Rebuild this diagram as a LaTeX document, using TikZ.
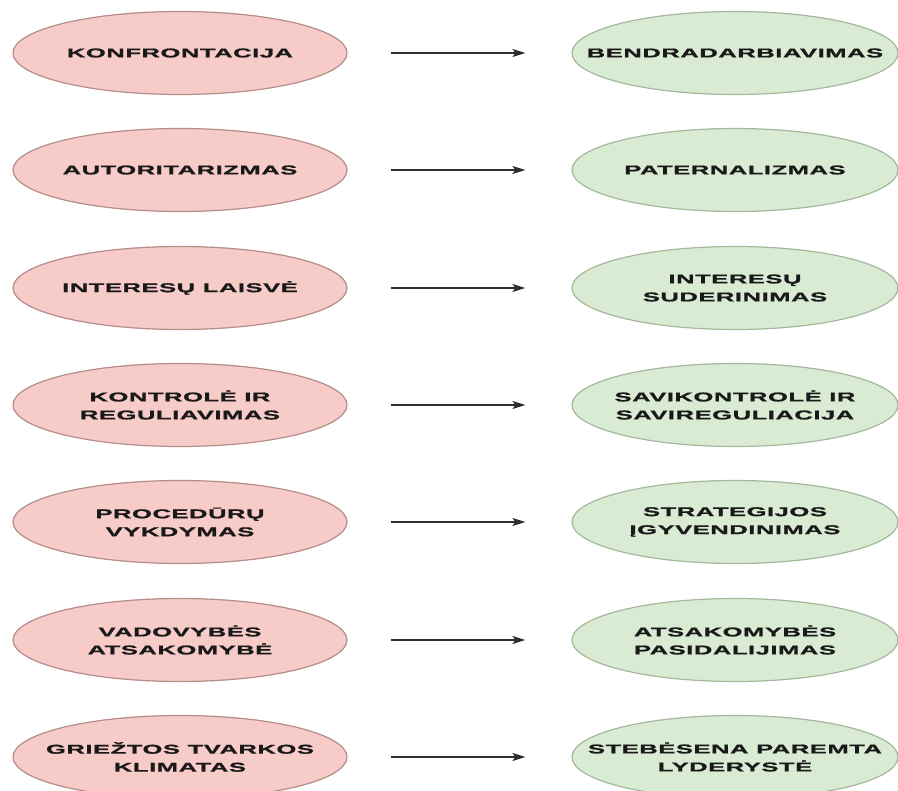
\documentclass[tikz,border=0pt]{standalone}
\usepackage{fontspec}
\newfontfamily\labfont{Liberation Sans Bold}[FakeStretch=2.0,LetterSpace=4,FakeBold=1.2]
\usetikzlibrary{shapes.geometric,arrows.meta}
\definecolor{pinkfill}{HTML}{F6CBC8}
\definecolor{pinkline}{HTML}{B48C88}
\definecolor{greenfill}{HTML}{D9EBD3}
\definecolor{greenline}{HTML}{A3B89C}
\definecolor{arrowgray}{HTML}{2E2E2E}
\tikzset{
  wayshape/.style={ellipse, line width=1.2pt, inner xsep=-80pt, inner ysep=-30pt,
    minimum height=83pt, align=center,
    font=\labfont\fontsize{12.8}{18}\selectfont, text=black!90},
  oldway/.style={wayshape, draw=pinkline, fill=pinkfill, minimum width=334pt},
  newway/.style={wayshape, draw=greenline, fill=greenfill, minimum width=326pt},
  changearrow/.style={draw=arrowgray, line width=1.4pt,
    -{Stealth[length=13pt,width=8pt,inset=3pt]}}
}
\begin{document}
\begin{tikzpicture}[x=1pt,y=-1pt]
\useasboundingbox (0,0) rectangle (898,791);
\node[oldway] (l1) at (180,53) {KONFRONTACIJA};
\node[oldway] (l2) at (180,170) {AUTORITARIZMAS};
\node[oldway] (l3) at (180,288) {INTERESŲ LAISVĖ};
\node[oldway] (l4) at (180,405) {KONTROLĖ IR\\REGULIAVIMAS};
\node[oldway] (l5) at (180,522) {PROCEDŪRŲ\\VYKDYMAS};
\node[oldway] (l6) at (180,640) {VADOVYBĖS\\ATSAKOMYBĖ};
\node[oldway] (l7) at (180,757) {GRIEŽTOS TVARKOS\\KLIMATAS};
\node[newway] (r1) at (735,53) {BENDRADARBIAVIMAS};
\node[newway] (r2) at (735,170) {PATERNALIZMAS};
\node[newway] (r3) at (735,288) {INTERESŲ\\SUDERINIMAS};
\node[newway] (r4) at (735,405) {SAVIKONTROLĖ IR\\SAVIREGULIACIJA};
\node[newway] (r5) at (735,522) {STRATEGIJOS\\ĮGYVENDINIMAS};
\node[newway] (r6) at (735,640) {ATSAKOMYBĖS\\PASIDALIJIMAS};
\node[newway] (r7) at (735,757) {STEBĖSENA PAREMTA\\LYDERYSTĖ};
\foreach \i in {1,...,7}
  \draw[changearrow] ([xshift=43pt]l\i.east) -- ([xshift=-46pt]r\i.west);
\end{tikzpicture}
\end{document}
